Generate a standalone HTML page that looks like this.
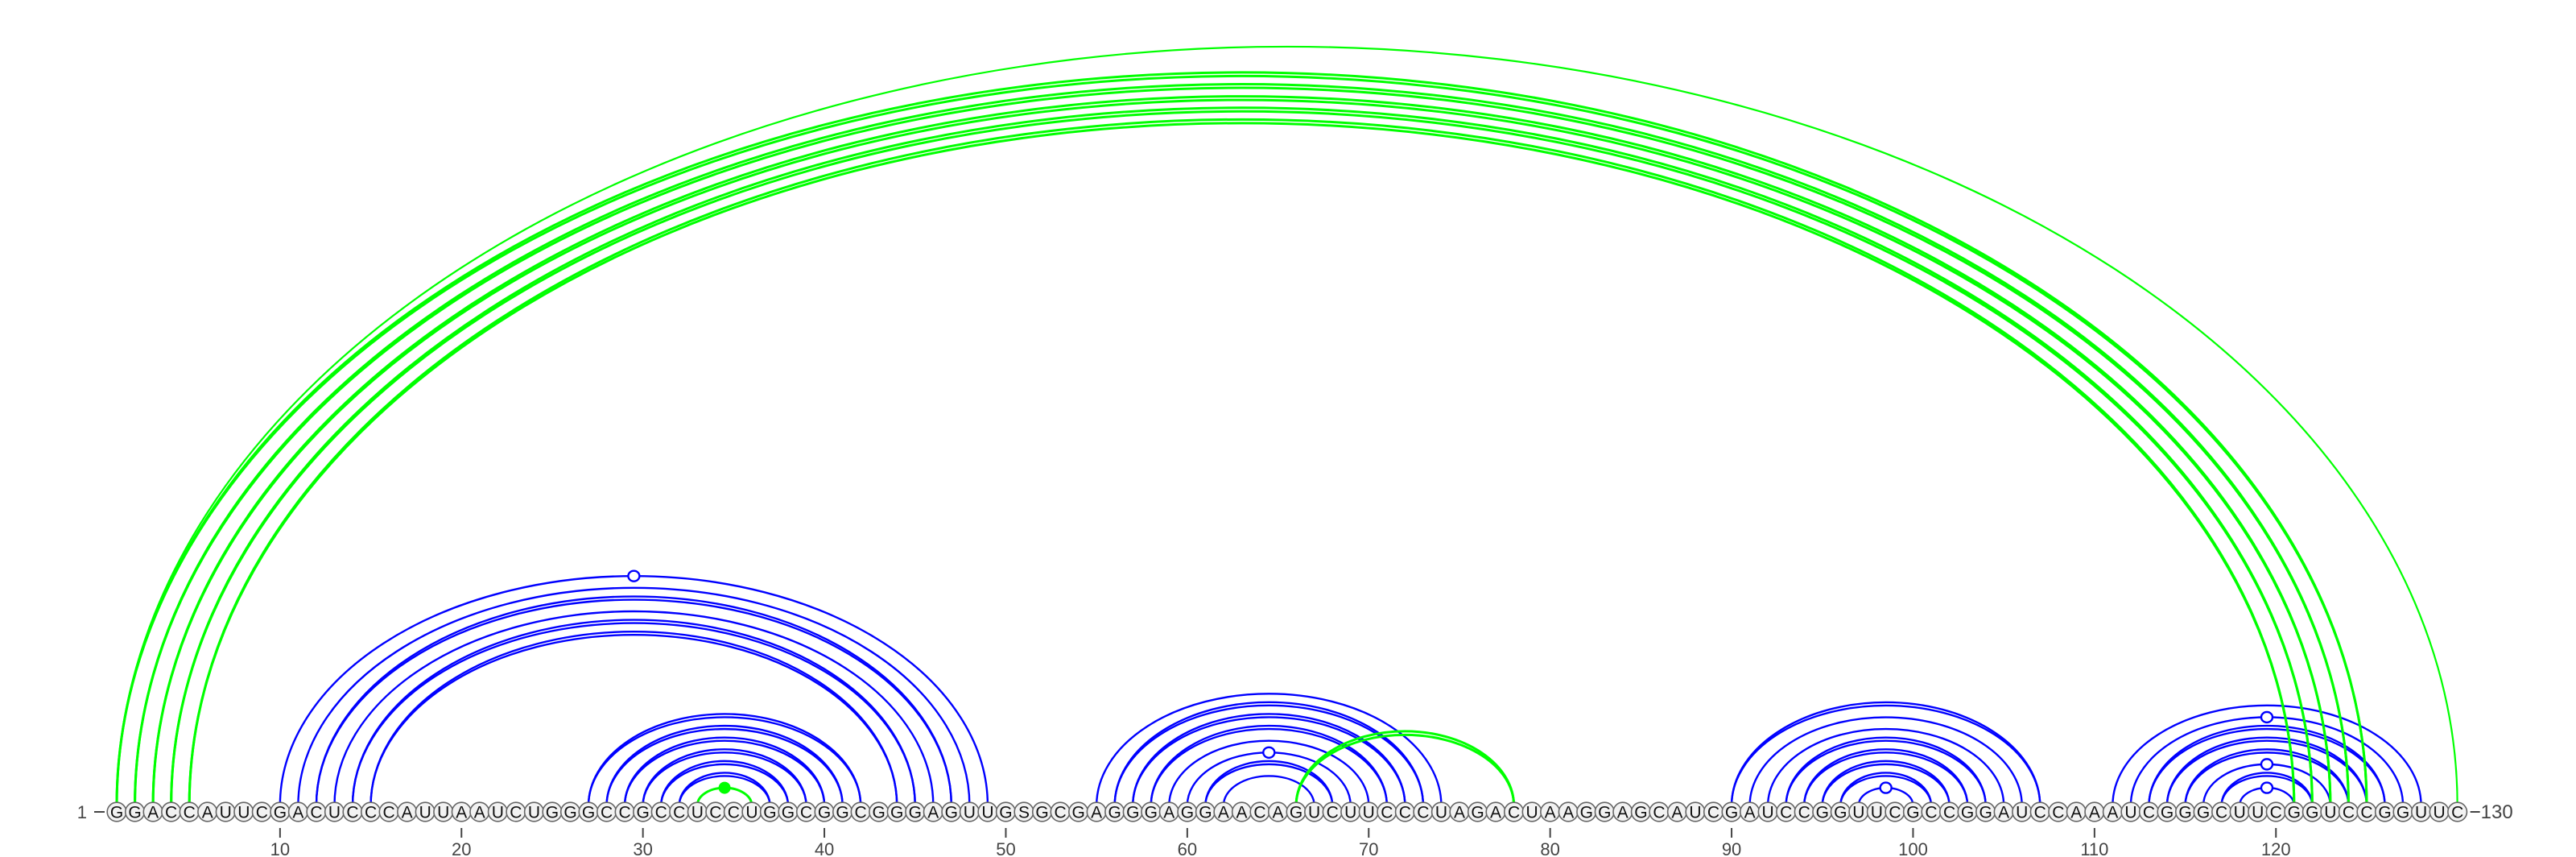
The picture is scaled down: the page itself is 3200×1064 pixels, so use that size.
<!DOCTYPE html>
<html><head><meta charset="utf-8"><style>
html,body{margin:0;padding:0;background:#fff;}
svg{display:block;}
text{font-family:"Liberation Sans",sans-serif;}
</style></head><body>
<svg id="chart" width="3200" height="1064" viewBox="0 0 3200 1064" xmlns="http://www.w3.org/2000/svg">
<g id="arcs"></g>
<g id="bases"></g>
<g id="axis"></g>
</svg>
<script>
const sequence = "GGACCAUUCGACUCCCAUUAAUCUGGGCCGCCUCCUGGCGGCGGGAGUUGSGCGAGGGAGGAACAGUCUUCCCUAGACUAAGGAGCAUCGAUCCGGUUCGCCGGAUCCAAAUCGGGCUUCGGUCCGGUUC";
const blueStarts = [10,11,12,13,14,15, 27,28,29,30,31,32, 55,56,57,58,59,60,61,62, 90,91,92,93,94,95,96,97, 111,112,113,114,115,116,117,118];
const blueEnds   = [49,48,47,46,45,44, 42,41,40,39,38,37, 74,73,72,71,70,69,68,67, 107,106,105,104,103,102,101,100, 128,127,126,125,124,123,122,121];
const blueDouble = [0,0,1,0,1,1, 1,1,1,1,1,1, 0,1,1,1,0,0,1,0, 1,0,0,1,1,1,1,0, 0,0,1,1,1,0,1,0];
const greenStarts = [1,1,2,3,4,5,33,66];
const greenEnds   = [130,125,124,123,122,121,36,78];
const greenDouble = [0,1,1,1,1,1,0,1];
const openMarkers = [[10,49],[60,69],[97,100],[112,127],[116,123],[118,121]];
const filledMarkers = [[33,36]];
const tickValues = [10,20,30,40,50,60,70,80,90,100,110,120];

const NS="http://www.w3.org/2000/svg";
const X0=145, DX=22.54, BASE=1000, K=0.648, CY=1008;
function xs(i){return X0+(i-1)*DX;}
function mk(tag,attrs,parent){const e=document.createElementNS(NS,tag);for(const k in attrs)e.setAttribute(k,attrs[k]);parent.appendChild(e);return e;}
const arcs=document.getElementById('arcs'), bases=document.getElementById('bases'), axis=document.getElementById('axis');

function arc(a,b,color,w,off,name){
  const x1=xs(a),x2=xs(b),rx=(x2-x1)/2,ry=K*rx+off;
  const p=mk('path',{d:`M${x1},${BASE} A${rx},${ry} 0 0 1 ${x2},${BASE}`,fill:'none',stroke:color,'stroke-width':w},arcs);
  
  
}
for(let i=0;i<blueStarts.length;i++){
  arc(blueStarts[i],blueEnds[i],'#0000ff',2.4,0,'blue-arc-'+blueStarts[i]+'-'+blueEnds[i]);
  if(blueDouble[i]) arc(blueStarts[i],blueEnds[i],'#0000ff',2.4,4,'blue-arc-'+blueStarts[i]+'-'+blueEnds[i]+'-alt');
}
for(let i=0;i<greenStarts.length;i++){
  const w = greenEnds[i]===130 ? 2.2 : 3;
  arc(greenStarts[i],greenEnds[i],'#00ff00',w,0,'green-arc-'+greenStarts[i]+'-'+greenEnds[i]);
  if(greenDouble[i]) arc(greenStarts[i],greenEnds[i],'#00ff00',3,4.5,'green-arc-'+greenStarts[i]+'-'+greenEnds[i]+'-alt');
}
openMarkers.forEach(m=>{
  const cx=(xs(m[0])+xs(m[1]))/2, cy=BASE-K*(xs(m[1])-xs(m[0]))/2;
  const c=mk('ellipse',{cx:cx,cy:cy,rx:7,ry:6.5,fill:'#fff',stroke:'#0000ff','stroke-width':2.4},arcs);
  
  
});
filledMarkers.forEach(m=>{
  const cx=(xs(m[0])+xs(m[1]))/2, cy=BASE-K*(xs(m[1])-xs(m[0]))/2;
  const c=mk('ellipse',{cx:cx,cy:cy,rx:7.5,ry:7.5,fill:'#00ff00'},arcs);
  
  
});
for(let i=1;i<=sequence.length;i++){
  const g=mk('g',{},bases);
  
  
  mk('circle',{cx:xs(i),cy:CY,r:11.8,fill:'#f2f2f2',stroke:'#666','stroke-width':1.6},g);
  const t=mk('text',{x:xs(i),y:CY+7.5,'text-anchor':'middle','font-size':21,fill:'#111'},g);
  t.textContent=sequence[i-1];
}
tickValues.forEach(v=>{
  const l=mk('line',{x1:xs(v),x2:xs(v),y1:1028,y2:1040,stroke:'#444','stroke-width':2},axis);
  
  
  const t=mk('text',{x:xs(v),y:1062,'text-anchor':'middle','font-size':22,fill:'#444'},axis);
  
  
  t.textContent=v;
});
const s=mk('text',{x:108,y:1016,'text-anchor':'end','font-size':22,fill:'#444'},axis);


s.textContent='1';
mk('line',{x1:117,x2:130,y1:1008,y2:1008,stroke:'#444','stroke-width':2},axis);
mk('line',{x1:xs(130)+16,x2:xs(130)+28,y1:1008,y2:1008,stroke:'#444','stroke-width':2},axis);
const e=mk('text',{x:xs(130)+29,y:1016,'font-size':24,fill:'#444'},axis);


e.textContent='130';
</script>
</body></html>
